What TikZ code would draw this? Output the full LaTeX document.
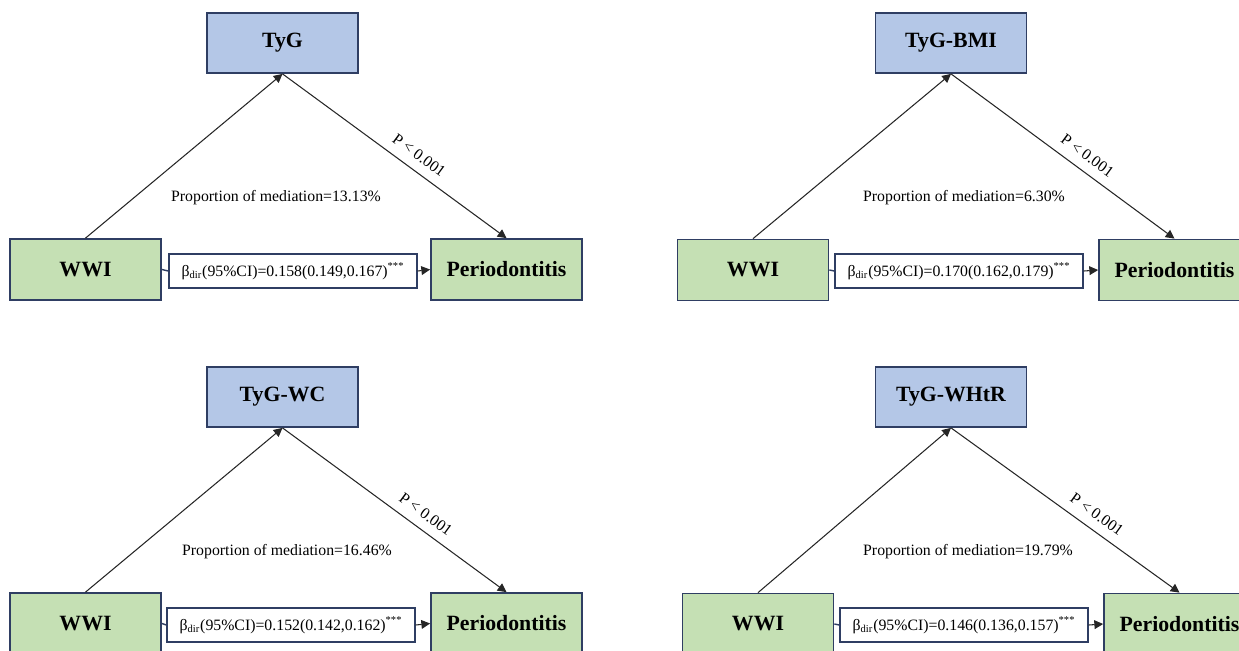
\documentclass[tikz,border=0pt]{standalone}
\usepackage{fontspec}
\setmainfont{Liberation Serif}
\usepackage{tikz}
\usetikzlibrary{
    calc,
    arrows.meta
}
\definecolor{medblue}{HTML}{B4C7E7}
\definecolor{vargreen}{HTML}{C5E0B4}
\definecolor{boxline}{HTML}{2F3E63}
\tikzset{
  medbox/.style={draw=boxline, line width=1pt, fill=medblue,
    minimum width=3.02cm, minimum height=1.2cm,
    font=\fontsize{12.4}{14}\selectfont\bfseries},
  varbox/.style={draw=boxline, line width=1pt, fill=vargreen,
    minimum width=3.02cm, minimum height=1.22cm,
    font=\fontsize{12.4}{14}\selectfont\bfseries},
  betabox/.style={draw=boxline, line width=0.8pt, fill=white,
    minimum width=4.96cm, minimum height=0.68cm, inner sep=0pt,
    font=\fontsize{9}{11}\selectfont},
  arr/.style={draw=black!85, line width=0.6pt,
    -{Triangle[length=5pt,width=5pt]}},
  pval/.style={sloped, above=2pt, font=\fontsize{9}{11}\selectfont},
  note/.style={font=\fontsize{9}{11}\selectfont}
}

\begin{document}
\begin{tikzpicture}[x=0.02cm, y=-0.02cm]
  \useasboundingbox (0,0) rectangle (1239,650);

  % TyG
  \node[medbox] (TyG1)   at (282.5,43)   {TyG};
  \node[varbox] (WWI1)   at (85.5,269.5) {WWI};
  \node[varbox] (Perio1) at (506.5,269.5) {Periodontitis};
  \node[betabox] (beta1) at (293,271)
    {β\textsubscript{dir}(95\%CI)=0.158(0.149,0.167)\textsuperscript{***}};
  \node[note] (prop1) at (276,198) {Proportion of mediation=13.13\%};

  \draw[arr] (WWI1.north) -- (TyG1.south);
  \draw[arr] (TyG1.south) -- node[pval, pos=0.57] {P < 0.001} (Perio1.north);
  \draw[draw=boxline, line width=0.8pt] (WWI1.east) -- (beta1.west);
  \draw[arr] (beta1.east) -- (Perio1.west);

  % TyG-BMI
  \node[medbox] (TyG2)   at (951,43)     {TyG-BMI};
  \node[varbox] (WWI2)   at (753,270)    {WWI};
  \node[varbox] (Perio2) at (1174.5,270) {Periodontitis};
  \node[betabox] (beta2) at (959,271)
    {β\textsubscript{dir}(95\%CI)=0.170(0.162,0.179)\textsuperscript{***}};
  \node[note] (prop2) at (964,198) {Proportion of mediation=6.30\%};

  \draw[arr] (WWI2.north) -- (TyG2.south);
  \draw[arr] (TyG2.south) -- node[pval, pos=0.57] {P < 0.001} (Perio2.north);
  \draw[draw=boxline, line width=0.8pt] (WWI2.east) -- (beta2.west);
  \draw[arr] (beta2.east) -- (Perio2.west);

  % TyG-WC
  \node[medbox] (TyG3)   at (282.5,397)  {TyG-WC};
  \node[varbox] (WWI3)   at (85.5,623.5) {WWI};
  \node[varbox] (Perio3) at (506.5,623.5) {Periodontitis};
  \node[betabox] (beta3) at (291,625)
    {β\textsubscript{dir}(95\%CI)=0.152(0.142,0.162)\textsuperscript{***}};
  \node[note] (prop3) at (287,552) {Proportion of mediation=16.46\%};

  \draw[arr] (WWI3.north) -- (TyG3.south);
  \draw[arr] (TyG3.south) -- node[pval, pos=0.6] {P < 0.001} (Perio3.north);
  \draw[draw=boxline, line width=0.8pt] (WWI3.east) -- (beta3.west);
  \draw[arr] (beta3.east) -- (Perio3.west);

  % TyG-WHtR
  \node[medbox] (TyG4)   at (951,397)    {TyG-WHtR};
  \node[varbox] (WWI4)   at (758,624)    {WWI};
  \node[varbox] (Perio4) at (1179.5,624) {Periodontitis};
  \node[betabox] (beta4) at (964,625)
    {β\textsubscript{dir}(95\%CI)=0.146(0.136,0.157)\textsuperscript{***}};
  \node[note] (prop4) at (968,552) {Proportion of mediation=19.79\%};

  \draw[arr] (WWI4.north) -- (TyG4.south);
  \draw[arr] (TyG4.south) -- node[pval, pos=0.6] {P < 0.001} (Perio4.north);
  \draw[draw=boxline, line width=0.8pt] (WWI4.east) -- (beta4.west);
  \draw[arr] (beta4.east) -- (Perio4.west);
\end{tikzpicture}
\end{document}
